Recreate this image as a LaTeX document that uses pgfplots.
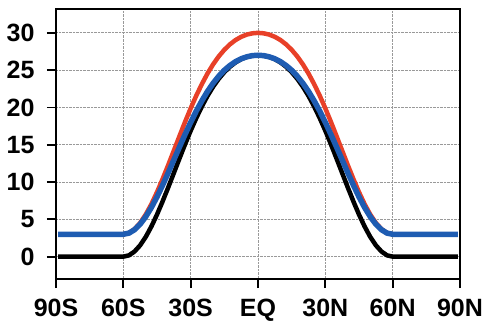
\documentclass[border=0pt]{standalone}
\usepackage{fontspec}
\setmainfont{Liberation Sans}
\usepackage{pgfplots}
\usepackage{pgfplotstable}
\pgfplotsset{compat=1.18}
\definecolor{cred}{RGB}{232,64,40}
\definecolor{cblue}{RGB}{30,92,178}
\pgfplotstableread{
x black blue red
-89 0 3 3
-60 0 3 3
-57.5 0.17 3.15 3.17
-55 0.69 3.61 3.69
-52.5 1.52 4.35 4.52
-50 2.65 5.36 5.65
-47.5 4.04 6.59 7.04
-45 5.64 8.01 8.64
-42.5 7.41 9.58 10.41
-40 9.28 11.25 12.28
-37.5 11.21 12.97 14.21
-35 13.15 14.69 16.15
-32.5 15.06 16.38 18.06
-30 16.88 18.00 19.88
-27.5 18.58 19.52 21.58
-25 20.14 20.90 23.14
-22.5 21.55 22.15 24.55
-20 22.78 23.25 25.78
-17.5 23.84 24.19 26.84
-15 24.73 24.99 27.73
-12.5 25.46 25.63 28.46
-10 26.04 26.14 29.04
-7.5 26.47 26.53 29.47
-5 26.77 26.79 29.77
-2.5 26.94 26.95 29.94
0 27 27 30
2.5 26.94 26.95 29.94
5 26.77 26.79 29.77
7.5 26.47 26.53 29.47
10 26.04 26.14 29.04
12.5 25.46 25.63 28.46
15 24.73 24.99 27.73
17.5 23.84 24.19 26.84
20 22.78 23.25 25.78
22.5 21.55 22.15 24.55
25 20.14 20.90 23.14
27.5 18.58 19.52 21.58
30 16.88 18.00 19.88
32.5 15.06 16.38 18.06
35 13.15 14.69 16.15
37.5 11.21 12.97 14.21
40 9.28 11.25 12.28
42.5 7.41 9.58 10.41
45 5.64 8.01 8.64
47.5 4.04 6.59 7.04
50 2.65 5.36 5.65
52.5 1.52 4.35 4.52
55 0.69 3.61 3.69
57.5 0.17 3.15 3.17
60 0 3 3
89 0 3 3
}\data
\begin{document}
\begin{tikzpicture}
\begin{axis}[
  scale only axis,
  width=404bp, height=270bp,
  xmin=-90, xmax=90, ymin=-3, ymax=33.2,
  xtick={-90,-60,-30,0,30,60,90},
  xticklabels={90S,60S,30S,EQ,30N,60N,90N},
  ytick={0,5,10,15,20,25,30},
  xtick pos=bottom, ytick pos=left,
  tick align=outside,
  major tick length=9bp,
  tick style={black, line width=1.8bp},
  axis line style={line width=2.6bp},
  grid=major,
  major grid style={densely dotted, gray!80, line width=0.9bp},
  tick label style={font=\fontsize{25bp}{29bp}\selectfont\bfseries},
  /pgf/number format/assume math mode=true,
  xticklabel style={yshift=-8bp},
  yticklabel style={xshift=-9bp},
  clip=false,
]
\addplot[black, line width=4.5bp, line join=round] table[x=x, y=black] {\data};
\addplot[cred, line width=4.5bp, line join=round] table[x=x, y=red] {\data};
\addplot[cblue, line width=5.5bp, line join=round] table[x=x, y=blue] {\data};
\end{axis}
\pgfresetboundingbox
\path (current axis.south west) ++(-56bp,-42bp) coordinate (a);
\path (current axis.north east) ++(25bp,9bp) coordinate (b);
\path[use as bounding box] (a) rectangle (b);
\end{tikzpicture}
\end{document}
